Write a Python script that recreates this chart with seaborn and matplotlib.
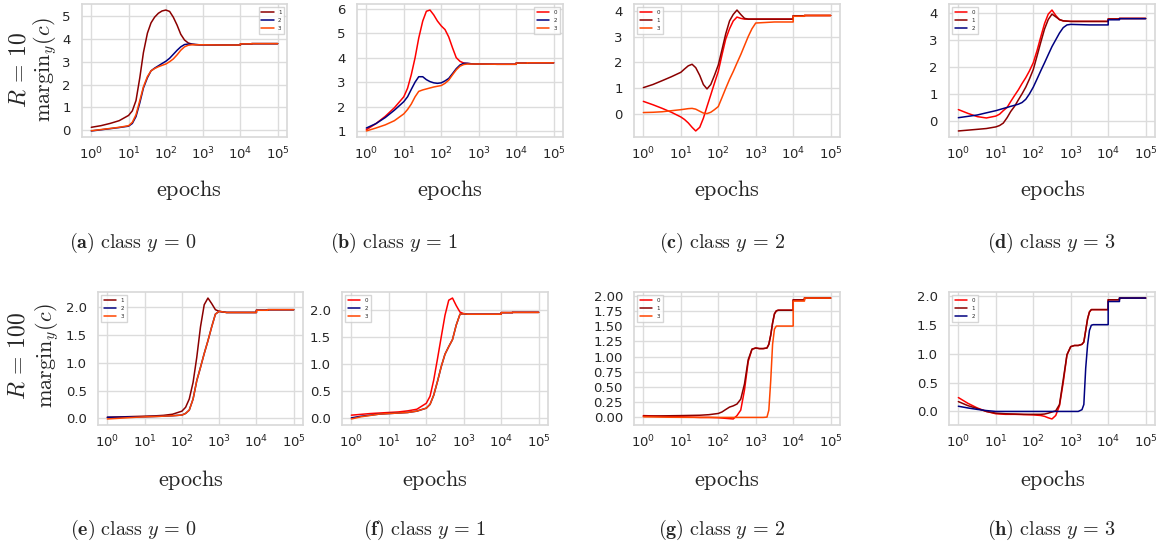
import matplotlib
matplotlib.use("Agg")
import matplotlib.pyplot as plt
import pandas as pd
import seaborn as sns

# ---------------------------------------------------------------------------
# Margin of class y against class c over training epochs
# ---------------------------------------------------------------------------
TOP_EPOCHS = [1, 1.8, 3.2, 5.6, 10, 12.6, 15.8, 20, 25, 32, 40, 50, 63, 79, 100,
              126, 158, 200, 251, 316, 398, 501, 631, 794, 1000, 3162,
              9999, 10000, 19999, 20000, 100000]
BOTTOM_EPOCHS = [1, 1.8, 3.2, 5.6, 10, 18, 32, 56, 100, 126, 158, 200, 251, 316,
                 398, 501, 631, 794, 1000, 1259, 1585, 1995, 2239, 2512, 2818,
                 3162, 3548, 3981, 6310, 9999, 10000, 19999, 20000, 100000]

# R = 10
r10_y0_c1 = [0.13, 0.2, 0.3, 0.42, 0.65, 0.85, 1.3, 2.3, 3.4, 4.25, 4.7, 4.95, 5.12, 5.22, 5.26,
             5.2, 4.95, 4.6, 4.2, 3.95, 3.82, 3.77, 3.75, 3.74, 3.74, 3.73, 3.73, 3.78, 3.78, 3.79, 3.79]
r10_y0_c2 = [-0.03, 0.02, 0.07, 0.12, 0.18, 0.3, 0.6, 1.2, 1.85, 2.3, 2.6, 2.72, 2.82, 2.92, 3.02,
             3.15, 3.32, 3.5, 3.65, 3.75, 3.77, 3.76, 3.75, 3.74, 3.74, 3.73, 3.73, 3.78, 3.78, 3.79, 3.79]
r10_y0_c3 = [-0.02, 0.03, 0.08, 0.13, 0.2, 0.35, 0.68, 1.3, 1.9, 2.35, 2.6, 2.7, 2.78, 2.84, 2.9,
             3.0, 3.12, 3.3, 3.5, 3.65, 3.72, 3.74, 3.74, 3.74, 3.74, 3.73, 3.73, 3.78, 3.78, 3.79, 3.79]

r10_y1_c0 = [1.05, 1.3, 1.6, 1.95, 2.4, 2.75, 3.3, 4.0, 4.8, 5.5, 5.9, 5.95, 5.75, 5.5, 5.3,
             5.15, 4.85, 4.4, 4.0, 3.85, 3.78, 3.76, 3.75, 3.74, 3.74, 3.73, 3.73, 3.78, 3.78, 3.79, 3.79]
r10_y1_c2 = [1.12, 1.3, 1.55, 1.85, 2.2, 2.4, 2.7, 3.0, 3.22, 3.22, 3.1, 3.02, 2.97, 2.95, 2.97,
             3.05, 3.15, 3.35, 3.55, 3.7, 3.77, 3.77, 3.75, 3.74, 3.74, 3.73, 3.73, 3.78, 3.78, 3.79, 3.79]
r10_y1_c3 = [1.0, 1.12, 1.25, 1.42, 1.7, 1.88, 2.1, 2.4, 2.62, 2.68, 2.72, 2.76, 2.8, 2.83, 2.86,
             2.95, 3.08, 3.3, 3.5, 3.65, 3.72, 3.74, 3.74, 3.74, 3.74, 3.73, 3.73, 3.78, 3.78, 3.79, 3.79]

r10_y2_c0 = [0.5, 0.37, 0.23, 0.08, -0.1, -0.2, -0.33, -0.5, -0.64, -0.5, -0.15, 0.3, 0.75, 1.2, 1.65,
             2.3, 2.9, 3.3, 3.6, 3.75, 3.7, 3.67, 3.67, 3.67, 3.67, 3.67, 3.67, 3.8, 3.8, 3.81, 3.81]
r10_y2_c1 = [1.03, 1.15, 1.3, 1.45, 1.62, 1.75, 1.87, 1.93, 1.8, 1.5, 1.15, 0.98, 1.15, 1.5, 1.9,
             2.5, 3.1, 3.6, 3.85, 4.02, 3.85, 3.7, 3.67, 3.67, 3.67, 3.67, 3.67, 3.8, 3.8, 3.81, 3.81]
r10_y2_c3 = [0.07, 0.08, 0.1, 0.14, 0.18, 0.2, 0.22, 0.23, 0.2, 0.12, 0.05, 0.03, 0.08, 0.18, 0.3,
             0.65, 1.0, 1.35, 1.65, 1.98, 2.3, 2.65, 3.0, 3.3, 3.52, 3.56, 3.56, 3.78, 3.78, 3.81, 3.81]

r10_y3_c0 = [0.42, 0.28, 0.16, 0.11, 0.18, 0.25, 0.38, 0.5, 0.72, 0.95, 1.15, 1.38, 1.6, 1.85, 2.15,
             2.6, 3.1, 3.6, 3.95, 4.1, 3.9, 3.74, 3.7, 3.69, 3.68, 3.68, 3.68, 3.77, 3.77, 3.79, 3.79]
r10_y3_c1 = [-0.37, -0.34, -0.31, -0.28, -0.22, -0.17, -0.08, 0.12, 0.35, 0.55, 0.78, 1.0, 1.25, 1.55, 1.9,
             2.4, 2.9, 3.4, 3.75, 3.95, 3.85, 3.75, 3.7, 3.69, 3.68, 3.68, 3.68, 3.77, 3.77, 3.79, 3.79]
r10_y3_c2 = [0.12, 0.17, 0.22, 0.3, 0.38, 0.42, 0.46, 0.5, 0.54, 0.58, 0.62, 0.68, 0.8, 1.0, 1.25,
             1.55, 1.85, 2.15, 2.45, 2.75, 3.0, 3.25, 3.45, 3.55, 3.57, 3.55, 3.55, 3.74, 3.74, 3.78, 3.78]

# R = 100
r100_y0_c1 = [0.02, 0.025, 0.03, 0.035, 0.04, 0.045, 0.055, 0.075, 0.13, 0.2, 0.35, 0.65, 1.1, 1.65,
              2.05, 2.17, 2.07, 1.96, 1.93, 1.92, 1.91, 1.91, 1.91, 1.91, 1.91, 1.91, 1.91, 1.91,
              1.91, 1.91, 1.95, 1.95, 1.96, 1.96]
r100_y0_c2 = [0.02, 0.022, 0.025, 0.028, 0.03, 0.035, 0.04, 0.048, 0.06, 0.09, 0.15, 0.35, 0.68, 0.92,
              1.17, 1.4, 1.65, 1.88, 1.93, 1.92, 1.91, 1.91, 1.91, 1.91, 1.91, 1.91, 1.91, 1.91,
              1.91, 1.91, 1.95, 1.95, 1.96, 1.96]
r100_y0_c3 = [-0.01, 0.0, 0.01, 0.02, 0.028, 0.033, 0.04, 0.048, 0.06, 0.09, 0.15, 0.35, 0.68, 0.92,
              1.17, 1.4, 1.65, 1.88, 1.93, 1.92, 1.91, 1.91, 1.91, 1.91, 1.91, 1.91, 1.91, 1.91,
              1.91, 1.91, 1.95, 1.95, 1.96, 1.96]

r100_y1_c0 = [0.05, 0.065, 0.08, 0.09, 0.1, 0.11, 0.13, 0.16, 0.27, 0.4, 0.7, 1.1, 1.5, 1.9,
              2.18, 2.22, 2.08, 1.96, 1.93, 1.92, 1.92, 1.92, 1.92, 1.92, 1.92, 1.92, 1.92, 1.92,
              1.92, 1.92, 1.95, 1.95, 1.955, 1.955]
r100_y1_c2 = [0.0, 0.03, 0.05, 0.07, 0.08, 0.09, 0.1, 0.125, 0.18, 0.25, 0.42, 0.68, 0.95, 1.18,
              1.32, 1.45, 1.72, 1.92, 1.93, 1.92, 1.92, 1.92, 1.92, 1.92, 1.92, 1.92, 1.92, 1.92,
              1.92, 1.92, 1.95, 1.95, 1.955, 1.955]
r100_y1_c3 = [-0.02, 0.02, 0.045, 0.07, 0.08, 0.09, 0.1, 0.125, 0.18, 0.25, 0.42, 0.68, 0.95, 1.18,
              1.32, 1.45, 1.72, 1.92, 1.93, 1.92, 1.92, 1.92, 1.92, 1.92, 1.92, 1.92, 1.92, 1.92,
              1.92, 1.92, 1.95, 1.95, 1.955, 1.955]

r100_y2_c0 = [0.03, 0.025, 0.02, 0.015, 0.01, 0.005, 0.0, 0.0, -0.005, -0.01, -0.015, -0.02, -0.025, 0.03,
              0.12, 0.45, 0.92, 1.12, 1.14, 1.13, 1.13, 1.14, 1.2, 1.35, 1.55, 1.7, 1.75, 1.76,
              1.76, 1.76, 1.93, 1.93, 1.96, 1.96]
r100_y2_c1 = [0.02, 0.022, 0.025, 0.028, 0.03, 0.033, 0.036, 0.045, 0.065, 0.09, 0.13, 0.17, 0.19, 0.22,
              0.3, 0.55, 0.95, 1.12, 1.14, 1.13, 1.13, 1.14, 1.2, 1.35, 1.55, 1.7, 1.75, 1.76,
              1.76, 1.76, 1.93, 1.93, 1.96, 1.96]
r100_y2_c3 = [0.01, 0.008, 0.005, 0.003, 0.002, 0.001, 0.0, 0.0, 0.0, 0.0, 0.0, 0.0, 0.0, 0.0,
              0.0, 0.0, 0.0, 0.0, 0.0, 0.0, 0.0, 0.005, 0.12, 0.6, 1.2, 1.45, 1.5, 1.5,
              1.5, 1.5, 1.91, 1.91, 1.96, 1.96]

r100_y3_c0 = [0.24, 0.14, 0.06, 0.0, -0.04, -0.05, -0.05, -0.055, -0.06, -0.065, -0.07, -0.085, -0.11, -0.13,
              -0.07, 0.1, 0.5, 0.98, 1.12, 1.14, 1.14, 1.16, 1.2, 1.4, 1.6, 1.72, 1.76, 1.76,
              1.76, 1.76, 1.93, 1.93, 1.96, 1.96]
r100_y3_c1 = [0.17, 0.1, 0.05, 0.0, -0.03, -0.04, -0.045, -0.05, -0.05, -0.05, -0.05, -0.045, -0.03, -0.01,
              0.01, 0.12, 0.55, 0.98, 1.12, 1.14, 1.14, 1.16, 1.2, 1.4, 1.6, 1.72, 1.76, 1.76,
              1.76, 1.76, 1.93, 1.93, 1.96, 1.96]
r100_y3_c2 = [0.09, 0.06, 0.035, 0.015, 0.0, 0.0, 0.0, 0.0, 0.0, 0.0, 0.0, 0.0, 0.0, 0.0,
              0.0, 0.0, 0.0, 0.0, 0.0, 0.0, 0.0, 0.03, 0.12, 0.75, 1.15, 1.4, 1.49, 1.5,
              1.5, 1.5, 1.9, 1.9, 1.96, 1.96]

CLASS_COLORS = {"0": "#ff0000", "1": "#8b0000", "2": "#000080", "3": "#ff4500"}

# (panel letter, R, y, epochs, {c: series}, y ticks, legend location)
PANELS = [
    ("a", 10, 0, TOP_EPOCHS, {"1": r10_y0_c1, "2": r10_y0_c2, "3": r10_y0_c3}, [0, 1, 2, 3, 4, 5], "upper right"),
    ("b", 10, 1, TOP_EPOCHS, {"0": r10_y1_c0, "2": r10_y1_c2, "3": r10_y1_c3}, [1, 2, 3, 4, 5, 6], "upper right"),
    ("c", 10, 2, TOP_EPOCHS, {"0": r10_y2_c0, "1": r10_y2_c1, "3": r10_y2_c3}, [0, 1, 2, 3, 4], "upper left"),
    ("d", 10, 3, TOP_EPOCHS, {"0": r10_y3_c0, "1": r10_y3_c1, "2": r10_y3_c2}, [0, 1, 2, 3, 4], "upper left"),
    ("e", 100, 0, BOTTOM_EPOCHS, {"1": r100_y0_c1, "2": r100_y0_c2, "3": r100_y0_c3},
     [0, 0.5, 1.0, 1.5, 2.0], "upper left"),
    ("f", 100, 1, BOTTOM_EPOCHS, {"0": r100_y1_c0, "2": r100_y1_c2, "3": r100_y1_c3},
     [0, 0.5, 1.0, 1.5, 2.0], "upper left"),
    ("g", 100, 2, BOTTOM_EPOCHS, {"0": r100_y2_c0, "1": r100_y2_c1, "3": r100_y2_c3},
     [0, 0.25, 0.5, 0.75, 1.0, 1.25, 1.5, 1.75, 2.0], "upper left"),
    ("h", 100, 3, BOTTOM_EPOCHS, {"0": r100_y3_c0, "1": r100_y3_c1, "2": r100_y3_c2},
     [0, 0.5, 1.0, 1.5, 2.0], "upper left"),
]

# axes boxes in pixels: left, right, top, bottom
AXES_PX = {
    "a": (82, 287, 4, 137), "b": (357, 563, 4, 137), "c": (634, 840, 4, 137), "d": (949, 1155, 4, 137),
    "e": (98, 303, 292, 425), "f": (342, 548, 292, 425), "g": (634, 840, 292, 425), "h": (949, 1155, 292, 425),
}
# centres of the x-label and caption texts (x of label, x of caption)
TEXT_X = {"a": (189, 133), "b": (450, 394), "c": (727, 722), "d": (1053, 1051),
          "e": (191, 133), "f": (435, 425), "g": (727, 722), "h": (1053, 1051)}

W, H = 1161, 550
sns.set_theme(style="whitegrid")
plt.rcParams.update({
    "xtick.labelsize": 9.5, "ytick.labelsize": 9.5,
    "xtick.major.pad": 0.5, "ytick.major.pad": 2,
    "xtick.color": "#262626", "ytick.color": "#262626",
    "axes.edgecolor": "#d9d9d9", "grid.color": "#dcdcdc",
})

fig = plt.figure(figsize=(W / 100, H / 100), dpi=100)

for letter, R, y, epochs, series, yticks, loc in PANELS:
    l, r, t, b = AXES_PX[letter]
    ax = fig.add_axes([l / W, 1 - b / H, (r - l) / W, (b - t) / H])
    frames = []
    for c, vals in series.items():
        assert len(vals) == len(epochs)
        frames.append(pd.DataFrame({"epoch": epochs, "margin": vals, "c": c}))
    df = pd.concat(frames, ignore_index=True)
    sns.lineplot(data=df, x="epoch", y="margin", hue="c", palette=CLASS_COLORS,
                 estimator=None, sort=False, linewidth=1.1, ax=ax)
    ax.set_xscale("log")
    ax.set_xticks([1, 10, 100, 1000, 10000, 100000])
    ax.minorticks_off()
    ax.set_yticks(yticks)
    ax.set_xlabel("")
    ax.set_ylabel("")
    handles, labels = ax.get_legend_handles_labels()
    ax.legend(handles, labels, loc=loc, fontsize=4, frameon=True, edgecolor="#cccccc",
              handlelength=2.2, borderpad=0.5, labelspacing=0.6, handletextpad=0.8,
              fancybox=False)

    lx, cx = TEXT_X[letter]
    row_label_y = 190 if R == 10 else 480
    row_cap_y = 243 if R == 10 else 530
    fig.text(lx / W, 1 - row_label_y / H, r"$\mathrm{epochs}$", math_fontfamily="cm",
             fontsize=16, ha="center", va="center")
    fig.text(cx / W, 1 - row_cap_y / H,
             r"$\mathbf{(" + letter + r")}\ \mathrm{class}\ y\,{=}\,"
             + str(y) + r"$",
             math_fontfamily="cm", fontsize=14.5, ha="center", va="center")

# row labels
for R, yc, mx in [(10, 70, 45), (100, 356, 47)]:
    fig.text(18 / W, 1 - yc / H, r"$R\,{=}\," + str(R) + r"$", math_fontfamily="cm",
             fontsize=17, rotation=90, ha="center", va="center")
    fig.text(mx / W, 1 - yc / H, r"$\mathrm{margin}_y(c)$", math_fontfamily="cm",
             fontsize=16, rotation=90, ha="center", va="center")

fig.savefig("out.png", dpi=100)
